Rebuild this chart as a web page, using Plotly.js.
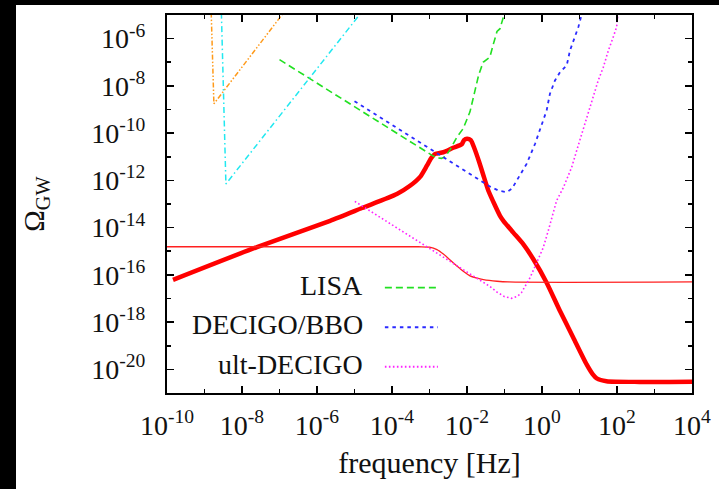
<!DOCTYPE html>
<html>
<head>
<meta charset="utf-8">
<script src="https://cdn.plot.ly/plotly-3.0.1.min.js"></script>
<style>
html,body{margin:0;padding:0;background:#000;width:719px;height:489px;overflow:hidden;}
#plot{position:absolute;left:16px;top:5px;width:703px;height:484px;background:#fff;}
</style>
</head>
<body>
<div id="plot"></div>
<script>
// ---- data ----
// thick red: GW signal spectrum
const signalFreq = [1.445e-10, 2.51e-8, 2.24e-6, 1.585e-5, 1.35e-4, 3.02e-4, 5.62e-4, 8.51e-4, 1.12e-3, 1.41e-3,
  2.34e-3, 4.27e-3, 7.24e-3, 8.32e-3, 1.0e-2, 1.26e-2, 1.58e-2, 2.09e-2, 2.69e-2, 3.72e-2,
  5.01e-2, 7.59e-2, 9.33e-2, 1.72e-1, 3.16e-1, 5.89e-1, 1.33, 3.02, 6.84, 15.5,
  22.4, 28.8, 52.5, 398, 1e4];
const signalOmega = [6.17e-17, 1.51e-15, 1.95e-14, 6.76e-14, 2.63e-13, 5.89e-13, 1.41e-12, 4.17e-12, 8.91e-12, 1.32e-11,
  1.55e-11, 2.40e-11, 3.39e-11, 5.01e-11, 5.75e-11, 5.01e-11, 2.24e-11, 6.31e-12, 1.78e-12, 3.63e-13,
  1.26e-13, 3.16e-14, 1.95e-14, 6.17e-15, 2.0e-15, 4.57e-16, 4.68e-17, 2.95e-18, 2.19e-19, 1.62e-20,
  6.31e-21, 4.17e-21, 3.16e-21, 2.95e-21, 3.02e-21];

// thin red curve
const thinFreq = [1e-10, 5.01e-4, 1.0e-3, 1.58e-3, 2.34e-3, 3.55e-3, 5.37e-3, 7.94e-3, 1.20e-2, 1.78e-2, 2.75e-2, 6.31e-2, 1.26e-1, 1e4];
const thinOmega = [1.55e-15, 1.55e-15, 1.48e-15, 1.17e-15, 7.59e-16, 4.27e-16, 2.40e-16, 1.41e-16, 9.12e-17, 7.41e-17, 6.31e-17, 5.37e-17, 5.01e-17, 5.01e-17];

// LISA sensitivity
const lisaFreq = [1e-7, 1.26e-3, 1.66e-3, 2.09e-3, 2.63e-3, 3.55e-3, 5.25e-3, 7.94e-3, 1.20e-2, 1.48e-2,
  2.04e-2, 2.69e-2, 4.07e-2, 5.01e-2, 6.31e-2, 7.59e-2, 9.33e-2, 1.05e-1];
const lisaOmega = [1.29e-7, 1.07e-11, 8.91e-12, 8.51e-12, 1.0e-11, 2.0e-11, 6.31e-11, 1.58e-10, 7.94e-10, 3.16e-9,
  2.82e-8, 1e-7, 1.66e-7, 5.62e-7, 2.0e-6, 2.63e-6, 8.32e-6, 1.58e-5];

// DECIGO/BBO sensitivity
const decigoFreq = [1e-5, 3.98e-2, 7.08e-2, 1.15e-1, 1.58e-1, 2.11e-1, 3.89e-1, 6.50e-1, 9.77e-1, 1.33,
  1.63, 2.22, 3.02, 4.57, 5.58, 7.59, 9.33, 10.7, 11.7];
const decigoOmega = [2.24e-9, 5.62e-13, 3.63e-13, 3.16e-13, 4.47e-13, 9.33e-13, 5.01e-12, 3.47e-11, 2.09e-10, 9.12e-10,
  4.68e-9, 1.70e-8, 3.80e-8, 7.41e-8, 3.16e-7, 1.17e-6, 3.09e-6, 7.08e-6, 1.26e-5];

// ultimate DECIGO sensitivity
const ultFreq = [1.02e-5, 2.24e-2, 3.98e-2, 6.17e-2, 0.1, 0.155, 0.224, 0.284, 0.479, 0.724,
  1.084, 1.47, 2.0, 2.45, 3.72, 6.17, 9.77, 15.5, 23.4, 31.6,
  43.2, 58.9, 79.4, 97.7, 105];
const ultOmega = [1.29e-13, 5.89e-17, 3.31e-17, 1.91e-17, 1.20e-17, 1.02e-17, 1.26e-17, 1.78e-17, 7.59e-17, 3.31e-16,
  1.45e-15, 7.41e-15, 5.13e-14, 1.38e-13, 5.01e-13, 3.55e-12, 3.98e-11, 4.68e-10, 3.31e-9, 1.70e-8,
  6.17e-8, 3.16e-7, 1.17e-6, 3.09e-6, 1e-5];

// pulsar-timing style curves (orange, cyan)
const orangeFreq = [1.51e-9, 1.78e-9, 1.26e-7];
const orangeOmega = [1.26e-5, 1.74e-9, 1.20e-5];
const cyanFreq = [2.82e-9, 3.72e-9, 1.51e-5];
const cyanOmega = [1.26e-5, 7.08e-13, 1.26e-5];

// ticks and labels
const xTickExp = [-10, -8, -6, -4, -2, 0, 2, 4];
const xMinorExp = [-9, -7, -5, -3, -1, 1, 3];
const yTickExp = [-20, -18, -16, -14, -12, -10, -8, -6];
const yMinorExp = [-19, -17, -15, -13, -11, -9, -7];
const legendNames = ['LISA', 'DECIGO/BBO', 'ult-DECIGO'];
const xTitle = 'frequency [Hz]';
const yTitle = 'Ω<sub>GW</sub>';

// ---- build ----
const pw = e => Number('1e' + e);
const lab = e => '10<sup>' + e + '</sup>';
const FONT = "'Liberation Serif', 'Times New Roman', serif";

const traces = [
  {x: signalFreq, y: signalOmega, mode: 'lines', line: {color: '#ff0000', width: 4.5, shape: 'spline', smoothing: 0.6}, hoverinfo: 'skip'},
  {x: thinFreq, y: thinOmega, mode: 'lines', line: {color: '#ff2020', width: 1.3, shape: 'spline', smoothing: 0.8}, hoverinfo: 'skip'},
  {x: lisaFreq, y: lisaOmega, mode: 'lines', line: {color: '#22e022', width: 1.6, dash: '7px,4px'}, hoverinfo: 'skip'},
  {x: decigoFreq, y: decigoOmega, mode: 'lines', line: {color: '#2a2aff', width: 1.8, dash: '3.5px,4px'}, hoverinfo: 'skip'},
  {x: ultFreq, y: ultOmega, mode: 'lines', line: {color: '#ff22ff', width: 1.6, dash: '1.6px,2.4px'}, hoverinfo: 'skip'},
  {x: orangeFreq, y: orangeOmega, mode: 'lines', line: {color: '#ff9a1a', width: 1.5, dash: '5px,2px,1.5px,2px,1.5px,2px'}, hoverinfo: 'skip'},
  {x: cyanFreq, y: cyanOmega, mode: 'lines', line: {color: '#22e8f0', width: 1.5, dash: '6px,3px,1.5px,3px'}, hoverinfo: 'skip'}
];

const legendColors = ['#22e022', '#2a2aff', '#ff22ff'];
const legendDash = ['7px,4px', '3.5px,4px', '1.6px,2.4px'];
const legendY = [0.279, 0.174, 0.0695];

const annotations = legendNames.map((n, i) => ({
  text: n, xref: 'paper', yref: 'paper', x: 0.377, y: legendY[i] + 0.006, xanchor: 'right', yanchor: 'middle',
  showarrow: false, font: {family: FONT, size: 28, color: '#111'}
}));
const shapes = legendNames.map((n, i) => ({
  type: 'line', xref: 'paper', yref: 'paper', x0: 0.415, x1: 0.516, y0: legendY[i], y1: legendY[i],
  line: {color: legendColors[i], width: 1.8, dash: legendDash[i]}
}));

const axisCommon = {
  type: 'log', showgrid: false, zeroline: false, showline: true, linecolor: '#000', linewidth: 2,
  mirror: 'ticks', ticks: 'inside', ticklen: 7, tickwidth: 1.6, tickcolor: '#000',
  tickfont: {family: FONT, size: 28, color: '#111'}
};

const layout = {
  width: 703, height: 484,
  margin: {l: 151, r: 27, t: 10, b: 96},
  paper_bgcolor: '#fff', plot_bgcolor: '#fff',
  showlegend: false,
  font: {family: FONT},
  xaxis: Object.assign({}, axisCommon, {
    range: [-10, 4], tickmode: 'array', tickvals: xTickExp.map(pw), ticktext: xTickExp.map(lab),
    ticklabelstandoff: 6,
    minor: {tickmode: 'array', tickvals: xMinorExp.map(pw), ticks: 'inside', ticklen: 4, tickwidth: 1.6, tickcolor: '#000'},
    title: {text: xTitle, font: {family: FONT, size: 30, color: '#111'}, standoff: 12}
  }),
  yaxis: Object.assign({}, axisCommon, {
    range: [-21, -5], tickmode: 'array', tickvals: yTickExp.map(pw), ticktext: yTickExp.map(lab),
    ticklabelstandoff: 14,
    minor: {tickmode: 'array', tickvals: yMinorExp.map(pw), ticks: 'inside', ticklen: 4, tickwidth: 1.6, tickcolor: '#000'},
    title: {text: yTitle, font: {family: FONT, size: 29, color: '#111'}, standoff: 38}
  }),
  annotations: annotations,
  shapes: shapes
};

Plotly.newPlot('plot', traces, layout, {staticPlot: true, displayModeBar: false});
</script>
</body>
</html>
